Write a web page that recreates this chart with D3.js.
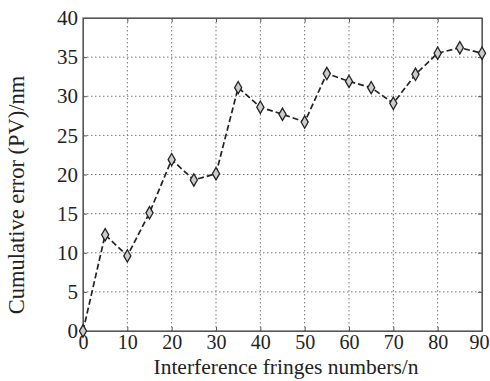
<!DOCTYPE html>
<html><head><meta charset="utf-8">
<script src="https://cdn.jsdelivr.net/npm/d3@7"></script>
<style>body{margin:0;background:#fff}svg{display:block}svg text{font-family:"Liberation Serif","Times New Roman","DejaVu Serif",serif !important;fill:#222}</style>
</head><body><svg id="c" width="490" height="381"></svg>
<script>
const xValues = [0,5,10,15,20,25,30,35,40,45,50,55,60,65,70,75,80,85,90];
const yValues = [0,12.3,9.6,15.1,21.9,19.3,20.1,31.1,28.6,27.7,26.7,32.9,31.9,31.1,29.1,32.8,35.5,36.2,35.5];
const xTicks = [0,10,20,30,40,50,60,70,80,90];
const yTicks = [0,5,10,15,20,25,30,35,40];
const xLabel = "Interference fringes numbers/n";
const yLabel = "Cumulative error (PV)/nm";
const FONT = "'Liberation Serif','Times New Roman','DejaVu Serif',serif";

const svg = d3.select("#c");
const L=83,R=482,T=18,B=331;
const x = d3.scaleLinear().domain([0,90]).range([L,R]);
const y = d3.scaleLinear().domain([0,40]).range([B,T]);

// grid
const g = svg.append("g");
g.selectAll(".gx").data(xTicks.slice(1,-1)).enter().append("line")
 .attr("x1",d=>x(d)).attr("x2",d=>x(d)).attr("y1",T).attr("y2",B)
 .attr("stroke","#777").attr("stroke-width",1).attr("stroke-dasharray","1.5,2.5");
g.selectAll(".gy").data(yTicks.slice(1,-1)).enter().append("line")
 .attr("y1",d=>y(d)).attr("y2",d=>y(d)).attr("x1",L).attr("x2",R)
 .attr("stroke","#777").attr("stroke-width",1).attr("stroke-dasharray","1.5,2.5");

// axes with inward ticks
const ax = svg.append("g").attr("transform",`translate(0,${B})`)
 .call(d3.axisBottom(x).tickValues(xTicks).tickSizeInner(-4).tickSizeOuter(0).tickPadding(4).tickFormat(d3.format("d")));
const ay = svg.append("g").attr("transform",`translate(${L},0)`)
 .call(d3.axisLeft(y).tickValues(yTicks).tickSizeInner(-4).tickSizeOuter(0).tickPadding(5).tickFormat(d3.format("d")));
svg.append("g").attr("transform",`translate(0,${T})`)
 .call(d3.axisTop(x).tickValues(xTicks).tickSizeInner(-4).tickSizeOuter(0).tickFormat(""));
svg.append("g").attr("transform",`translate(${R},0)`)
 .call(d3.axisRight(y).tickValues(yTicks).tickSizeInner(-4).tickSizeOuter(0).tickFormat(""));
svg.selectAll("g").attr("font-family",FONT);
svg.selectAll(".domain").attr("stroke","#555");
svg.selectAll(".tick line").attr("stroke","#555");
svg.selectAll(".tick text").attr("font-size",21).attr("font-family",FONT).attr("fill","#222");
ax.selectAll(".tick text").attr("font-size",20).attr("dy","0.71em");
ax.selectAll(".tick").filter(d=>d===90).select("text").attr("text-anchor","end").attr("dx",7);
svg.append("rect").attr("x",L).attr("y",T).attr("width",R-L).attr("height",B-T)
 .attr("fill","none").attr("stroke","#555").attr("stroke-width",1.2);

// line
const line = d3.line().x((d,i)=>x(xValues[i])).y(d=>y(d));
svg.append("path").datum(yValues).attr("d",line).attr("fill","none")
 .attr("stroke","#222").attr("stroke-width",1.7).attr("stroke-dasharray","6,3");
svg.selectAll(".m").data(yValues).enter().append("path")
 .attr("transform",(d,i)=>`translate(${x(xValues[i])},${y(d)})`)
 .attr("d",d3.symbol(d3.symbolDiamond,44)())
 .attr("fill","#ccc").attr("stroke","#222").attr("stroke-width",1.3);

// labels
svg.append("text").attr("x",286).attr("y",374).attr("text-anchor","middle")
 .attr("font-family",FONT).attr("font-size",21.5).text(xLabel);
svg.append("text").attr("transform",`translate(24,195) rotate(-90)`).attr("text-anchor","middle")
 .attr("font-family",FONT).attr("font-size",22.5).text(yLabel);
</script></body></html>
